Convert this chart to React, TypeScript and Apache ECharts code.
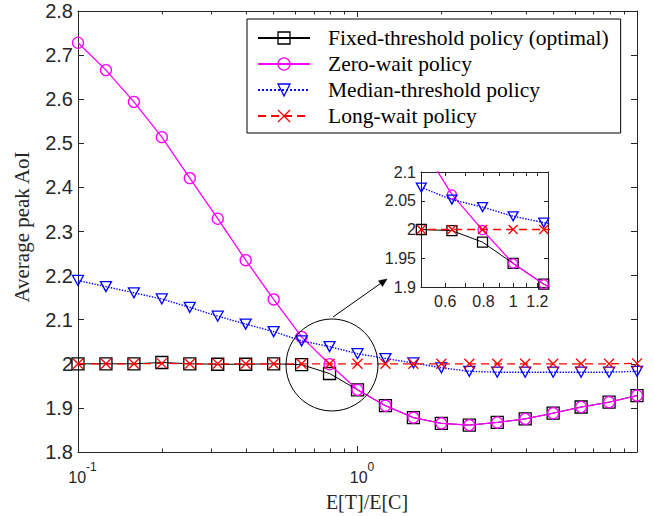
import React, { useEffect, useRef } from 'react';
import * as echarts from 'echarts';

// E[T]/E[C] values (log-spaced sample points)
const ratio = [0.1, 0.1259, 0.1585, 0.1995, 0.2512, 0.3162, 0.3981, 0.5012, 0.631, 0.7943, 1, 1.259, 1.585, 1.995, 2.512, 3.162, 3.981, 5.012, 6.31, 7.943, 10];

const fixedThreshold = [2.0, 2.0, 2.0, 2.003, 2.0, 1.999, 1.999, 2.0, 1.998, 1.978, 1.941, 1.905, 1.878, 1.865, 1.861, 1.867, 1.875, 1.888, 1.902, 1.913, 1.928];
const zeroWait = [2.728, 2.666, 2.594, 2.514, 2.421, 2.329, 2.235, 2.146, 2.061, 1.999, 1.941, 1.905, 1.878, 1.865, 1.861, 1.867, 1.875, 1.888, 1.902, 1.913, 1.928];
const medianThreshold = [2.189, 2.175, 2.161, 2.147, 2.128, 2.108, 2.09, 2.073, 2.052, 2.039, 2.023, 2.012, 2.002, 1.991, 1.983, 1.981, 1.981, 1.981, 1.981, 1.981, 1.983];
const longWait = [2.0, 2.0, 2.0, 2.001, 2.0, 2.0, 2.0, 2.0, 2.0, 2.0, 2.0, 2.0, 2.0, 2.0, 2.0, 2.0, 2.0, 2.0, 2.0, 2.0, 2.001];

const seriesNames = ['Fixed-threshold policy (optimal)', 'Zero-wait policy', 'Median-threshold policy', 'Long-wait policy'];
const seriesValues = [fixedThreshold, zeroWait, medianThreshold, longWait];

const mainMajorTicks = [0.1, 1, 10];
const mainTickLabels = [0.1, 1];
const mainMinorTicks = [0.2, 0.3, 0.4, 0.5, 0.6, 0.7, 0.8, 0.9, 2, 3, 4, 5, 6, 7, 8, 9];
const insetTicks = [0.6, 0.7, 0.8, 0.9, 1, 1.1, 1.2];
const insetTickLabels = [0.6, 0.8, 1, 1.2];

const SANS = "'Liberation Sans', Arial, Helvetica, sans-serif";
const SERIF = "'Liberation Serif', 'Times New Roman', serif";
const AXIS_COLOR = '#262626';

const looks = [
  { symbol: 'rect', size: 12, insetSize: 10, rotate: 0, color: '#000000', type: 'solid' as any, width: 1 },
  { symbol: 'circle', size: 11, insetSize: 9, rotate: 0, color: '#FF00FF', type: 'solid' as any, width: 1.3 },
  { symbol: 'triangle', size: [11, 10], insetSize: [10, 9], rotate: 180, color: '#0000FF', type: 'dotted' as any, width: 1.4 },
  { symbol: 'path://M0,0L10,10M10,0L0,10', size: 10, insetSize: 9, rotate: 0, color: '#FF0000', type: [8, 5] as any, width: 1.3 },
];

function buildSeries(xAxisIndex: number, yAxisIndex: number, inset: boolean) {
  return seriesNames.map((name, s) => {
    const lk = looks[s];
    return {
      name,
      type: 'line',
      xAxisIndex,
      yAxisIndex,
      data: ratio.map((x, i) => [x, seriesValues[s][i]]),
      symbol: lk.symbol,
      symbolSize: inset ? lk.insetSize : lk.size,
      symbolRotate: lk.rotate,
      showSymbol: true,
      showAllSymbol: true,
      clip: true,
      silent: true,
      itemStyle: { color: 'transparent', borderColor: lk.color, borderWidth: 1.3 },
      lineStyle: { color: lk.color, width: lk.width, type: lk.type },
      emphasis: { disabled: true },
      z: 2 + s,
    };
  });
}

const axisLineStyle = { color: AXIS_COLOR, width: 1 };

export default function App() {
  const ref = useRef<HTMLDivElement>(null);

  useEffect(() => {
    if (!ref.current) return;
    const chart = echarts.init(ref.current, undefined, { renderer: 'svg' });

    const mainGrid = { left: 78, top: 11, width: 559, height: 441 };
    const insetGrid = { left: 421, top: 172, width: 127, height: 115 };

    const supRich = {
      base: { fontSize: 16, fontFamily: SANS, color: AXIS_COLOR, lineHeight: 24, verticalAlign: 'bottom' },
      sup: { fontSize: 12, fontFamily: SANS, color: AXIS_COLOR, lineHeight: 12, verticalAlign: 'top' },
    };

    const option: any = {
      animation: false,
      backgroundColor: '#ffffff',
      grid: [
        { ...mainGrid, containLabel: false, outerBoundsMode: 'none' },
        { ...insetGrid, containLabel: false, outerBoundsMode: 'none' },
        { ...mainGrid, containLabel: false, outerBoundsMode: 'none' },
      ],
      xAxis: [
        {
          gridIndex: 0, type: 'log', logBase: 10, min: 0.1, max: 10, position: 'bottom',
          axisLine: { show: true, lineStyle: axisLineStyle },
          axisTick: { show: true, inside: true, length: 6, customValues: mainMajorTicks, lineStyle: axisLineStyle },
          axisLabel: {
            show: true, customValues: mainTickLabels, margin: 9, padding: [0, 0, 0, 9],
            formatter: (v: number) => `{base|10}{sup|${Math.round(Math.log10(v))}}`,
            rich: supRich,
          },
          splitLine: { show: false },
        },
        {
          gridIndex: 0, type: 'log', logBase: 10, min: 0.1, max: 10, position: 'top',
          axisLine: { show: true, lineStyle: axisLineStyle },
          axisTick: { show: true, inside: true, length: 6, customValues: mainMajorTicks, lineStyle: axisLineStyle },
          axisLabel: { show: false },
          splitLine: { show: false },
        },
        {
          gridIndex: 1, type: 'log', logBase: 10, min: 0.5, max: 1.3, position: 'bottom',
          axisLine: { show: true, lineStyle: axisLineStyle },
          axisTick: { show: true, inside: true, length: 4, customValues: insetTicks, lineStyle: axisLineStyle },
          axisLabel: {
            show: true, customValues: insetTickLabels, margin: 6,
            fontSize: 16, fontFamily: SANS, color: AXIS_COLOR,
            formatter: (v: number) => `${+Number(v).toFixed(1)}`,
          },
          splitLine: { show: false },
        },
        {
          gridIndex: 1, type: 'log', logBase: 10, min: 0.5, max: 1.3, position: 'top',
          axisLine: { show: true, lineStyle: axisLineStyle },
          axisTick: { show: true, inside: true, length: 4, customValues: insetTicks, lineStyle: axisLineStyle },
          axisLabel: { show: false },
          splitLine: { show: false },
        },
        {
          gridIndex: 2, type: 'log', logBase: 10, min: 0.1, max: 10, position: 'bottom',
          axisLine: { show: false },
          axisTick: { show: true, inside: true, length: 3.5, customValues: mainMinorTicks, lineStyle: axisLineStyle },
          axisLabel: { show: false },
          splitLine: { show: false },
        },
        {
          gridIndex: 2, type: 'log', logBase: 10, min: 0.1, max: 10, position: 'top',
          axisLine: { show: false },
          axisTick: { show: true, inside: true, length: 3.5, customValues: mainMinorTicks, lineStyle: axisLineStyle },
          axisLabel: { show: false },
          splitLine: { show: false },
        },
      ],
      yAxis: [
        {
          gridIndex: 0, type: 'value', min: 1.8, max: 2.8, interval: 0.1, position: 'left',
          axisLine: { show: true, lineStyle: axisLineStyle },
          axisTick: { show: true, inside: true, length: 6, lineStyle: axisLineStyle },
          axisLabel: { show: true, margin: 5, fontSize: 20, fontFamily: SANS, color: AXIS_COLOR, padding: [4, 0, 0, 0] },
          splitLine: { show: false },
        },
        {
          gridIndex: 0, type: 'value', min: 1.8, max: 2.8, interval: 0.1, position: 'right',
          axisLine: { show: true, lineStyle: axisLineStyle },
          axisTick: { show: true, inside: true, length: 6, lineStyle: axisLineStyle },
          axisLabel: { show: false },
          splitLine: { show: false },
        },
        {
          gridIndex: 1, type: 'value', min: 1.9, max: 2.1, interval: 0.05, position: 'left',
          axisLine: { show: true, lineStyle: axisLineStyle },
          axisTick: { show: true, inside: true, length: 4, lineStyle: axisLineStyle },
          axisLabel: { show: true, margin: 5, fontSize: 16, fontFamily: SANS, color: AXIS_COLOR, padding: [2, 0, 0, 0] },
          splitLine: { show: false },
        },
        {
          gridIndex: 1, type: 'value', min: 1.9, max: 2.1, interval: 0.05, position: 'right',
          axisLine: { show: true, lineStyle: axisLineStyle },
          axisTick: { show: true, inside: true, length: 4, lineStyle: axisLineStyle },
          axisLabel: { show: false },
          splitLine: { show: false },
        },
        {
          gridIndex: 2, type: 'value', min: 0, max: 1, show: false,
        },
      ],
      legend: {
        show: true,
        orient: 'vertical',
        left: 247,
        top: 19,
        padding: [7, 12, 5, 10],
        itemGap: 2,
        itemWidth: 52,
        itemHeight: 15,
        backgroundColor: '#ffffff',
        borderColor: '#000000',
        borderWidth: 1,
        borderRadius: 0,
        selectedMode: false,
        symbolRotate: 'inherit',
        itemStyle: { borderWidth: 1.3 },
        data: seriesNames,
        textStyle: { fontFamily: SERIF, fontSize: 21.5, color: '#000000', lineHeight: 24, padding: [0, 0, 0, 13] },
        z: 10,
      },
      series: [...buildSeries(0, 0, false), ...buildSeries(2, 2, true)],
      graphic: [
        {
          type: 'circle', z: 20,
          shape: { cx: 332, cy: 365, r: 46 },
          style: { fill: 'none', stroke: '#000000', lineWidth: 1 },
          silent: true,
        },
        {
          type: 'line', z: 20,
          shape: { x1: 333, y1: 317, x2: 384, y2: 281 },
          style: { stroke: '#000000', lineWidth: 1 },
          silent: true,
        },
        {
          type: 'polygon', z: 20,
          shape: { points: [[387, 279], [382.5, 286.5], [378.5, 280.8]] },
          style: { fill: '#000000', stroke: '#000000', lineWidth: 0.5 },
          silent: true,
        },
        {
          type: 'text', z: 20,
          x: 22, y: 227, rotation: Math.PI / 2,
          style: { text: 'Average peak AoI', font: `21px ${SERIF}`, fill: AXIS_COLOR, align: 'center', verticalAlign: 'middle' },
          silent: true,
        },
        {
          type: 'text', z: 20,
          x: 367, y: 502,
          style: { text: 'E[T]/E[C]', font: `20px ${SERIF}`, fill: AXIS_COLOR, align: 'center', verticalAlign: 'middle' },
          silent: true,
        },
      ],
    };

    chart.setOption(option);
    return () => chart.dispose();
  }, []);

  return (
    <div
      ref={ref}
      style={{ position: 'absolute', left: 0, top: 0, width: 654, height: 516, background: '#ffffff' }}
    />
  );
}
